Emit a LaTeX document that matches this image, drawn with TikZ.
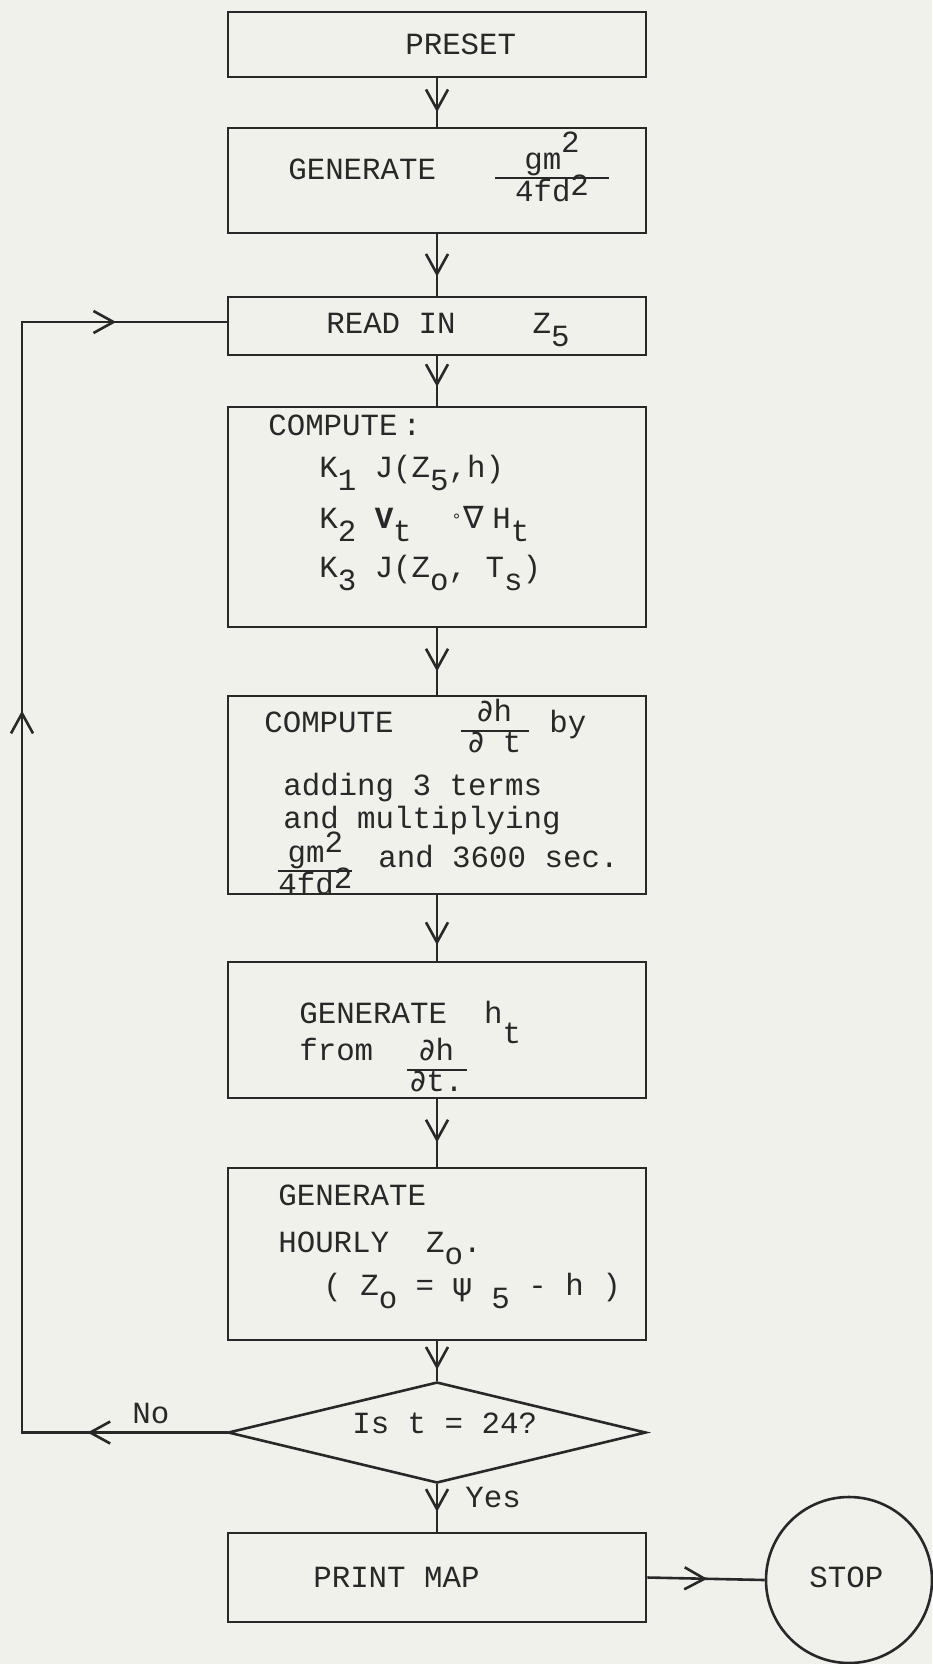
\documentclass[tikz,border=0pt]{standalone}
\usepackage{amsmath}
\usepackage{fontspec}
\setmainfont{Liberation Mono}
\newfontfamily\symf{DejaVu Sans}
\usetikzlibrary{decorations.markings, shapes.geometric, arrows.meta}
\definecolor{paper}{RGB}{241,241,236}
\definecolor{ink}{RGB}{40,40,40}
\newcommand{\flowfont}{\fontsize{30.8}{37}\selectfont}
\newcommand{\sublo}[2][0.45em]{\raisebox{-#1}[0pt][0pt]{#2}}
\newcommand{\suphi}[2][0.55em]{\raisebox{#1}[0pt][0pt]{#2}}
\newcommand{\pd}{{\symf ∂}}
\setlength{\arrayrulewidth}{2pt}
\newcommand{\frc}[3][0pt]{{\renewcommand{\arraystretch}{0.72}\begin{tabular}{@{\hspace{#1}}c@{\hspace{#1}}}#2\\\hline #3\end{tabular}}}
\tikzset{midarrow/.style={
    decoration={
      markings,
      mark=at position #1 with {\arrow{Straight Barb[length=20pt,width=22pt]}},
    },
    postaction={decorate}
  },
  block/.style={draw, line width=2.6pt, minimum width=418pt, inner sep=0pt},
  txt/.style={font=\flowfont, inner sep=0pt, anchor=base west}
}

\begin{document}
\begin{tikzpicture}[x=1pt, y=-1pt, color=ink, line width=2.6pt]
      \path[use as bounding box, fill=paper] (0,0) rectangle (932,1664);
      % boxes
      \node[block, minimum height=65pt] (preset) at (437,44.5) {};
      \node[block, minimum height=105pt] (gen) at (437,180.5) {};
      \node[block, minimum height=58pt] (read) at (437,326) {};
      \node[block, minimum height=220pt] (comp) at (437,517) {};
      \node[block, minimum height=198pt] (dhdt) at (437,795) {};
      \node[block, minimum height=136pt] (genh) at (437,1030) {};
      \node[block, minimum height=172pt] (hourly) at (437,1254) {};
      \node[block, diamond, minimum height=101pt] (test) at (437,1432.5) {};
      \node[block, minimum height=89pt] (print) at (437,1577.5) {};
      \node[draw, circle, minimum size=166pt, inner sep=0pt] (stop) at (849,1580) {};
      % texts
      \node[txt] (tpreset) at (404,55) {PRESET};
      \node[txt] (tgen) at (287,180) {GENERATE};
      \node[txt, anchor=center] (tgenfrac) at (552,180) {\frc[20pt]{gm\suphi{2}}{4fd\suphi[0.2em]{2}}};
      \node[txt] (tread) at (325,333) {READ IN\hspace{77pt}Z\sublo{5}};
      \node[txt] (tcomp) at (267,435) {COMPUTE\kern5pt:};
      \node[txt] (tk1) at (318,477) {K\sublo{1} J(Z\sublo{5},h)};
      \node[txt] (tk2) at (318,528) {K\sublo{2} \textbf{V}\sublo{t}\hspace{40pt}\raisebox{0.2em}{\symf\fontsize{16}{16}\selectfont ∘}\hspace{2pt}{\symf ∇}\hspace{8pt}H\sublo{t}};
      \node[txt] (tk3) at (318,577) {K\sublo{3} J(Z\sublo{o}, T\sublo{s})};
      \node[txt] (tdh1) at (263,732) {COMPUTE};
      \node[txt, anchor=center] (tdhfrac) at (495,730) {\frc[8pt]{\pd h}{\pd\ t}};
      \node[txt] (tby) at (548,732) {by};
      \node[txt] (tdh2) at (282,795) {adding 3 terms};
      \node[txt] (tdh3) at (282,828) {and multiplying};
      \node[txt, anchor=west] (tdhgm) at (277,873) {\frc{gm\suphi[0.3em]{2}}{4fd\suphi[0.2em]{2}}};
      \node[txt] (tdh4) at (377,867) {and 3600 sec.};
      \node[txt] (tgenh) at (298,1023) {GENERATE~~h\sublo[0.65em]{t}};
      \node[txt] (tfrom) at (298,1060) {from};
      \node[txt, anchor=center] (tfromfrac) at (437,1069) {\frc[4pt]{\pd h}{\pd t.}};
      \node[txt] (thr1) at (277,1205) {GENERATE};
      \node[txt] (thr2) at (277,1252) {HOURLY~~Z\sublo[0.4em]{o}.};
      \node[txt] (thr3) at (322,1295) {( Z\sublo{o} = {\symf ψ}\sublo{~5} - h )};
      \node[txt] (ttest) at (351,1433) {Is t = 24?};
      \node[txt] (tno) at (131,1423) {No};
      \node[txt] (tyes) at (464,1507) {Yes};
      \node[txt] (tprint) at (312,1587) {PRINT MAP};
      \node[txt] (tstop) at (808,1587) {STOP};
      % connectors
      \draw[midarrow=0.7] (preset.south) -- (gen.north);
      \draw[midarrow=0.69] (gen.south) -- (read.north);
      \draw[midarrow=0.62] (read.south) -- (comp.north);
      \draw[midarrow=0.65] (comp.south) -- (dhdt.north);
      \draw[midarrow=0.76] (dhdt.south) -- (genh.north);
      \draw[midarrow=0.64] (genh.south) -- (hourly.north);
      \draw[midarrow=0.72] (hourly.south) -- (test.north);
      \draw[midarrow=0.58] (test.south) -- (print.north);
      \draw[midarrow=0.51] (print.east) -- (stop.west);
      % loop back
      \coordinate (nocorner) at (22,1432.5);
      \coordinate (upcorner) at (22,322);
      \draw[midarrow=0.68, line cap=rect] (test.west) -- (nocorner);
      \draw[midarrow=0.65, line cap=rect] (nocorner) -- (upcorner);
      \draw[midarrow=0.46, line cap=rect] (upcorner) -- (read.west |- upcorner);
\end{tikzpicture}
\end{document}
